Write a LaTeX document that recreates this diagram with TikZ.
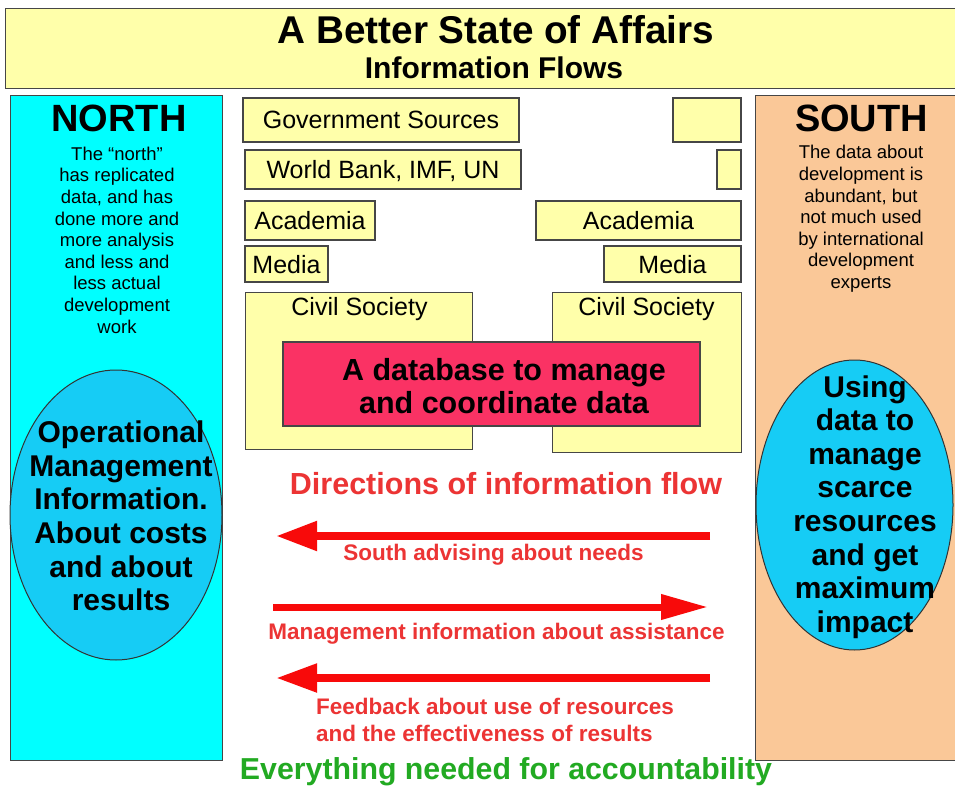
\documentclass[tikz,border=0pt]{standalone}
\usepackage{fontspec}
\setmainfont{Liberation Sans}
\usetikzlibrary{shapes.geometric,arrows.meta}
\definecolor{paleyellow}{RGB}{255,255,170}
\definecolor{panelcyan}{RGB}{0,255,255}
\definecolor{panelpeach}{RGB}{250,200,152}
\definecolor{ellblue}{RGB}{22,204,245}
\definecolor{dbred}{RGB}{250,50,100}
\definecolor{txtred}{RGB}{236,52,52}
\definecolor{arrred}{RGB}{248,10,10}
\definecolor{accgreen}{RGB}{34,170,34}
\definecolor{edgegray}{RGB}{70,70,70}
\begin{document}
\begin{tikzpicture}[x=1pt,y=-1pt,
  panel/.style={draw=edgegray,line width=1.4pt,inner sep=0pt},
  ybox/.style={draw=edgegray,fill=paleyellow,line width=1.3pt,inner sep=0pt,
    font=\fontsize{25}{28}\selectfont,text height=18pt,text depth=0pt},
  bodytxt/.style={inner sep=0pt,align=center,font=\fontsize{18.5}{21.6}\selectfont},
  elltxt/.style={inner sep=0pt,align=center,font=\bfseries\fontsize{30}{33.6}\selectfont},
  bigtxt/.style={inner sep=0pt,font=\bfseries\fontsize{38}{40}\selectfont,text height=27pt,text depth=0pt},
  redlbl/.style={inner sep=0pt,text=txtred,font=\bfseries\fontsize{22.5}{27}\selectfont},
  ellshape/.style={ellipse,draw=black!80,line width=1pt,fill=ellblue,inner sep=0pt},
  flowarrow/.style={draw=arrred,line width=8pt}
]
\useasboundingbox (0,0) rectangle (955,786);
\fill[white] (0,0) rectangle (955,786);
\clip (0,0) rectangle (955,786);

% title
\node[panel,fill=paleyellow,minimum width=958pt,minimum height=80pt,anchor=north west] (title) at (5,8) {};
\node[inner sep=0pt,font=\bfseries\fontsize{38.7}{40}\selectfont,text height=28pt,text depth=0pt] (t1) at (496,30) {A Better State of Affairs};
\node[inner sep=0pt,font=\bfseries\fontsize{30}{32}\selectfont,text height=21.5pt,text depth=0pt] (t2) at (494,68) {Information Flows};

% side panels
\node[panel,fill=panelcyan,minimum width=212pt,minimum height=665pt,anchor=north west] (north) at (10,95) {};
\node[panel,fill=panelpeach,minimum width=210pt,minimum height=665pt,anchor=north west] (south) at (755,95) {};

\node[bigtxt] (northlbl) at (119,118) {NORTH};
\node[bigtxt] (southlbl) at (861.5,118) {SOUTH};

\node[bodytxt] (northbody) at (117,240) {The “north”\\has replicated\\data, and has\\done more and\\more analysis\\and less and\\less actual\\development\\work};
\node[bodytxt] (southbody) at (861,219) {The data about\\development is\\abundant, but\\not much used\\by international\\development\\experts};

% ellipses
\node[ellshape,minimum width=212pt,minimum height=290pt] (nell) at (116,515) {};
\node[elltxt] (nelltxt) at (121,516) {Operational\\Management\\Information.\\About costs\\and about\\results};
\node[ellshape,minimum width=197pt,minimum height=290pt] (sell) at (854.5,505) {};
\node[elltxt] (selltxt) at (865,507) {Using\\data to\\manage\\scarce\\resources\\and get\\maximum\\impact};

% middle boxes
\node[ybox,minimum width=276pt,minimum height=44pt] (gov) at (381,120) {Government Sources};
\node[ybox,minimum width=68pt,minimum height=44pt] (govr) at (707,120) {};
\node[ybox,minimum width=276pt,minimum height=39pt] (wb) at (383,169.5) {World Bank, IMF, UN};
\node[ybox,minimum width=24pt,minimum height=39pt] (wbr) at (729,169.5) {};
\node[ybox,minimum width=130pt,minimum height=39pt] (acl) at (310,220.5) {Academia};
\node[ybox,minimum width=205pt,minimum height=39pt] (acr) at (638.5,220.5) {Academia};
\node[ybox,minimum width=83pt,minimum height=36pt] (mel) at (286.5,264) {Media};
\node[ybox,minimum width=137pt,minimum height=36pt] (mer) at (672.5,264) {Media};
\node[ybox,minimum width=227pt,minimum height=157pt,anchor=north west] (csl) at (245,292) {};
\node[ybox,minimum width=189pt,minimum height=160pt,anchor=north west] (csr) at (552,292) {};
\node[inner sep=0pt,font=\fontsize{25}{28}\selectfont,text height=18pt,text depth=0pt] (csltxt) at (359.5,306) {Civil Society};
\node[inner sep=0pt,font=\fontsize{25}{28}\selectfont,text height=18pt,text depth=0pt] (csrtxt) at (646.5,306) {Civil Society};

% database
\node[draw=edgegray,line width=1.3pt,fill=dbred,minimum width=417pt,minimum height=84pt,inner sep=0pt] (db) at (491.5,384) {};
\node[inner sep=0pt,align=center,font=\bfseries\fontsize{30.5}{33}\selectfont] (dbtxt) at (504,386) {A database to manage\\and coordinate data};

% flows
\node[inner sep=0pt,text=txtred,font=\bfseries\fontsize{30.5}{32}\selectfont,text height=22pt,text depth=0pt] (dir) at (506,483) {Directions of information flow};

\coordinate (a1s) at (710,536);
\coordinate (a1e) at (276,536);
\draw[flowarrow,-{Triangle[length=41pt,width=28pt]}] (a1s) -- (a1e);
\node[redlbl,text height=16pt,text depth=0pt] (l1) at (493.5,552) {South advising about needs};

\coordinate (a2s) at (273,607);
\coordinate (a2e) at (708,607);
\draw[flowarrow,line width=7pt,-{Triangle[length=47pt,width=24pt]}] (a2s) -- (a2e);
\node[redlbl,text height=16pt,text depth=0pt] (l2) at (496.5,631) {Management information about assistance};

\coordinate (a3s) at (710,678);
\coordinate (a3e) at (276,678);
\draw[flowarrow,-{Triangle[length=41pt,width=27pt]}] (a3s) -- (a3e);
\node[redlbl,align=left,anchor=west] (l3) at (316,720) {Feedback about use of resources\\and the effectiveness of results};

\node[inner sep=0pt,text=accgreen,font=\bfseries\fontsize{30.3}{32}\selectfont,text height=22pt,text depth=0pt] (acc) at (506,768) {Everything needed for accountability};
\end{tikzpicture}
\end{document}
